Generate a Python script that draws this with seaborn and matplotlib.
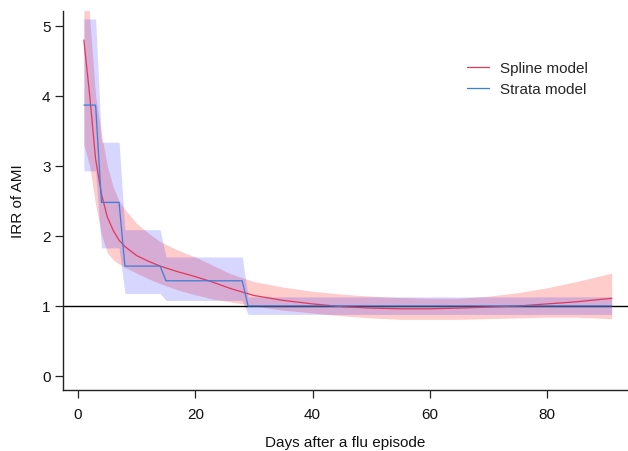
import numpy as np
import pandas as pd
import matplotlib
matplotlib.use("Agg")
import matplotlib.pyplot as plt
import seaborn as sns

# ---- data ----
spline_days = [1, 2, 3, 4, 5, 6, 7, 8, 10, 12, 14, 17, 20, 23, 26, 30, 35, 40,
               45, 50, 55, 60, 65, 70, 75, 80, 85, 91]
spline_irr = [4.80, 4.00, 3.10, 2.60, 2.27, 2.08, 1.94, 1.85, 1.72, 1.64, 1.57,
              1.49, 1.42, 1.34, 1.25, 1.15, 1.08, 1.03, 0.99, 0.97, 0.96, 0.96,
              0.97, 0.985, 1.00, 1.03, 1.06, 1.11]
spline_lo = [3.30, 3.00, 2.45, 2.02, 1.76, 1.66, 1.60, 1.55, 1.47, 1.39, 1.32,
             1.23, 1.16, 1.10, 1.06, 1.00, 0.94, 0.90, 0.86, 0.83, 0.81, 0.81,
             0.81, 0.82, 0.83, 0.84, 0.84, 0.82]
spline_hi = [6.80, 5.10, 4.00, 3.45, 3.00, 2.70, 2.50, 2.38, 2.18, 2.04, 1.92,
             1.80, 1.70, 1.58, 1.46, 1.35, 1.27, 1.21, 1.17, 1.14, 1.12, 1.11,
             1.11, 1.14, 1.19, 1.26, 1.35, 1.47]

strata_start = [1, 4, 8, 15, 29]
strata_end = [3, 7, 14, 28, 91]
strata_irr = [3.87, 2.48, 1.57, 1.36, 1.00]
strata_lo = [2.93, 1.83, 1.18, 1.08, 0.88]
strata_hi = [5.10, 3.34, 2.09, 1.70, 1.13]

x_ticks = [0, 20, 40, 60, 80]
y_ticks = [0, 1, 2, 3, 4, 5]
series_labels = ["Spline model", "Strata model"]

# ---- tables ----
spline_df = pd.DataFrame({"day": spline_days, "irr": spline_irr,
                          "lo": spline_lo, "hi": spline_hi})
rows = []
for s, e, v, l, h in zip(strata_start, strata_end, strata_irr, strata_lo, strata_hi):
    for d in range(s, e + 1):
        rows.append((d, v, l, h))
strata_df = pd.DataFrame(rows, columns=["day", "irr", "lo", "hi"])

# ---- style ----
sns.set_theme(style="ticks")
plt.rcParams['font.family'] = ['Liberation Sans', 'DejaVu Sans']

RED = "#E0395A"
BLUE = "#3A7ED6"
FS = 11

fig = plt.figure(figsize=(6.28, 4.52), dpi=100)
ax = fig.add_axes([63 / 628, 1 - 391 / 452, 1 - 63 / 628, (391 - 12) / 452])

ax.fill_between(spline_df["day"], spline_df["lo"], spline_df["hi"],
                color=(1, 0, 0), alpha=0.2, lw=0)
ax.fill_between(strata_df["day"], strata_df["lo"], strata_df["hi"],
                color=(0, 0, 1), alpha=0.16, lw=0)
ax.axhline(1, color="black", lw=1.0, zorder=1.5)

sns.lineplot(data=spline_df, x="day", y="irr", color=RED, lw=0.9, ax=ax,
             label=series_labels[0])
sns.lineplot(data=strata_df, x="day", y="irr", color=BLUE, lw=0.9, ax=ax,
             label=series_labels[1])

ax.set_xlim((63 - 78) / 5.865, (628 - 78) / 5.865)
ax.set_ylim((377 - 391) / 70, (377 - 12) / 70)
ax.set_xticks(x_ticks)
ax.set_yticks(y_ticks)

for sp in ["top", "right"]:
    ax.spines[sp].set_visible(False)
for sp in ["left", "bottom"]:
    ax.spines[sp].set_color("#222222")
    ax.spines[sp].set_linewidth(1.0)

ax.tick_params(axis="both", direction="out", length=6, width=0.9,
               color="#222222", labelsize=FS, labelcolor="#111111")
ax.tick_params(axis="x", pad=6)
ax.tick_params(axis="y", pad=3)

ax.set_xlabel("Days after a flu episode", fontsize=FS, labelpad=10, color="#111111")
ax.set_ylabel("IRR of AMI", fontsize=FS, labelpad=12, color="#111111")

ax.legend(loc="upper left", bbox_to_anchor=(467 / 628, 1 - 62 / 452),
          bbox_transform=fig.transFigure, frameon=False, fontsize=FS,
          borderpad=0, borderaxespad=0, handlelength=1.45, handletextpad=0.7,
          labelspacing=0.45)

fig.savefig("out.png", dpi=100)
